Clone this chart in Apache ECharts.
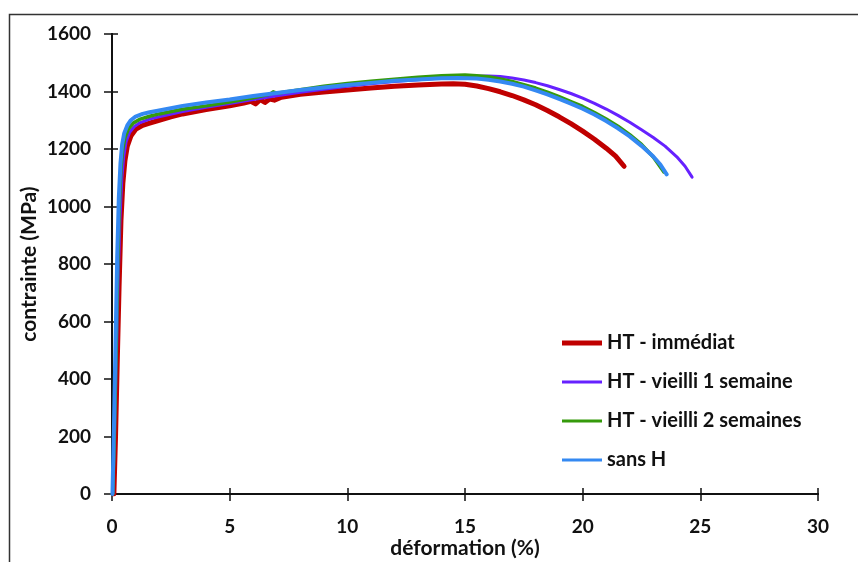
<!DOCTYPE html>
<html><head><meta charset="utf-8">
<script src="https://cdn.jsdelivr.net/npm/echarts@6/dist/echarts.min.js"></script>
<style>html,body{margin:0;padding:0;background:#fff;overflow:hidden}#c{width:858px;height:562px}</style>
</head><body><div id="c"></div>
<script>
// Data
const seriesNames = ['HT - immédiat', 'HT - vieilli 1 semaine', 'HT - vieilli 2 semaines', 'sans H'];
const xTicks = [0, 5, 10, 15, 20, 25, 30];
const yTicks = [0, 200, 400, 600, 800, 1000, 1200, 1400, 1600];

const xImmediat = [0.08, 0.15, 0.22, 0.3, 0.38, 0.46, 0.55, 0.65, 0.8, 1.0, 1.3, 1.6, 2.0, 2.5, 3.0, 4.0, 5.0, 5.6, 5.9, 6.1, 6.3, 6.5, 6.7, 6.9, 7.2, 8.0, 9.0, 10.0, 11.0, 12.0, 13.0, 14.0, 14.5, 15.0, 15.5, 16.0, 16.5, 17.0, 17.5, 18.0, 18.5, 19.0, 19.5, 20.0, 20.5, 21.0, 21.4, 21.76];
const yImmediat = [0, 200, 450, 720, 950, 1080, 1160, 1210, 1245, 1268, 1282, 1290, 1300, 1312, 1322, 1337, 1350, 1360, 1366, 1357, 1372, 1362, 1374, 1370, 1380, 1390, 1398, 1405, 1412, 1418, 1423, 1426, 1427, 1425, 1419, 1410, 1399, 1386, 1371, 1354, 1334, 1312, 1288, 1262, 1234, 1203, 1175, 1140];

const xSemaine1 = [0.03, 0.1, 0.18, 0.26, 0.34, 0.42, 0.5, 0.6, 0.75, 0.95, 1.2, 1.6, 2.0, 3.0, 4.0, 5.0, 6.0, 7.0, 8.0, 9.0, 10.0, 11.0, 12.0, 13.0, 14.0, 15.0, 16.0, 16.5, 17.0, 17.5, 18.0, 18.5, 19.0, 19.5, 20.0, 20.5, 21.0, 21.5, 22.0, 22.5, 23.0, 23.5, 24.0, 24.35, 24.65];
const ySemaine1 = [0, 180, 450, 740, 960, 1100, 1175, 1225, 1258, 1278, 1292, 1304, 1312, 1330, 1345, 1358, 1372, 1385, 1397, 1408, 1418, 1427, 1435, 1441, 1447, 1452, 1454, 1452, 1447, 1440, 1431, 1420, 1407, 1393, 1377, 1359, 1339, 1317, 1293, 1267, 1240, 1210, 1173, 1140, 1102];

const xSemaine2 = [0.03, 0.1, 0.17, 0.24, 0.31, 0.38, 0.45, 0.55, 0.7, 0.9, 1.2, 1.6, 2.0, 3.0, 4.0, 5.0, 6.0, 6.7, 6.85, 7.0, 8.0, 9.0, 10.0, 11.0, 12.0, 13.0, 14.0, 15.0, 15.5, 16.0, 16.5, 17.0, 17.5, 18.0, 18.5, 19.0, 19.5, 20.0, 20.5, 21.0, 21.5, 22.0, 22.5, 23.0, 23.45];
const ySemaine2 = [0, 200, 480, 780, 1000, 1130, 1195, 1240, 1270, 1290, 1304, 1314, 1322, 1338, 1350, 1363, 1378, 1390, 1399, 1394, 1406, 1418, 1428, 1436, 1443, 1450, 1455, 1457, 1455, 1451, 1444, 1435, 1424, 1412, 1398, 1382, 1365, 1348, 1327, 1304, 1279, 1250, 1216, 1172, 1120];

const xSansH = [0.02, 0.08, 0.15, 0.22, 0.29, 0.36, 0.43, 0.52, 0.65, 0.8, 1.0, 1.3, 1.6, 2.0, 3.0, 4.0, 5.0, 6.0, 7.0, 8.0, 9.0, 10.0, 11.0, 12.0, 13.0, 14.0, 14.7, 15.5, 16.0, 16.5, 17.0, 17.5, 18.0, 18.5, 19.0, 19.5, 20.0, 20.5, 21.0, 21.5, 22.0, 22.5, 23.0, 23.3, 23.57];
const ySansH = [0, 220, 520, 820, 1030, 1150, 1215, 1255, 1282, 1300, 1313, 1322, 1328, 1334, 1350, 1362, 1372, 1384, 1395, 1405, 1414, 1423, 1430, 1437, 1442, 1446, 1447, 1445, 1441, 1435, 1427, 1417, 1404, 1390, 1374, 1358, 1340, 1320, 1297, 1272, 1244, 1211, 1174, 1146, 1112];

const colors = ['#C00000', '#6621FF', '#359A0B', '#3489F2'];
const widths = [5, 3, 3.5, 4];
const legendIcons = ['path://M0,0H40V5H0Z', 'path://M0,0H40V3H0Z', 'path://M0,0H40V3H0Z', 'path://M0,0H40V3H0Z'];

function zip(xs, ys) { return xs.map((x, i) => [x, ys[i]]); }
const datasets = [zip(xImmediat, yImmediat), zip(xSemaine1, ySemaine1), zip(xSemaine2, ySemaine2), zip(xSansH, ySansH)];

const FONT = 'Lato';
const chart = echarts.init(document.getElementById('c'), null, {renderer: 'canvas', width: 858, height: 562});

const baseX = {
  type: 'value', min: xTicks[0], max: xTicks[xTicks.length - 1], interval: 5,
  splitLine: {show: false}, nameMoveOverlap: false,
  axisLine: {show: true, onZero: false, lineStyle: {color: '#111', width: 2}},
};
const baseY = {
  type: 'value', min: yTicks[0], max: yTicks[yTicks.length - 1], interval: 200,
  splitLine: {show: false}, nameMoveOverlap: false,
  axisLine: {show: true, onZero: false, lineStyle: {color: '#111', width: 2}},
};

chart.setOption({
  animation: false,
  backgroundColor: '#fff',
  grid: {left: 112, right: 40, top: 34, bottom: 68, containLabel: false, outerBoundsMode: 'none'},
  graphic: [{
    type: 'rect', left: 7, top: 12, silent: true, z: -1,
    shape: {x: 0, y: 0, width: 900, height: 600},
    style: {fill: 'none', stroke: '#333', lineWidth: 1.5}
  }],
  xAxis: [
    Object.assign({}, baseX, {
      name: 'déformation (%)', nameLocation: 'middle', nameGap: 44,
      nameTextStyle: {fontFamily: FONT, fontWeight: 'bold', fontSize: 21, color: '#111'},
      axisTick: {show: true, inside: false, length: 7, lineStyle: {color: '#111', width: 1.5}},
      axisLabel: {fontFamily: FONT, fontWeight: 'bold', fontSize: 19, color: '#111', margin: 23, formatter: v => String(v)}
    }),
    Object.assign({}, baseX, {
      axisTick: {show: true, inside: true, length: 6, lineStyle: {color: '#111', width: 1.5}},
      axisLabel: {show: false}, position: 'bottom'
    })
  ],
  yAxis: [
    Object.assign({}, baseY, {
      name: 'contrainte (MPa)', nameLocation: 'middle', nameGap: 72, nameRotate: 90,
      nameTextStyle: {fontFamily: FONT, fontWeight: 'bold', fontSize: 21, color: '#111'},
      axisTick: {show: true, inside: false, length: 8, lineStyle: {color: '#111', width: 1.5}},
      axisLabel: {fontFamily: FONT, fontWeight: 'bold', fontSize: 19, color: '#111', margin: 21, formatter: v => String(v)}
    }),
    Object.assign({}, baseY, {
      axisTick: {show: true, inside: true, length: 6, lineStyle: {color: '#111', width: 1.5}},
      axisLabel: {show: false}, position: 'left'
    })
  ],
  legend: {
    orient: 'vertical', left: 557, top: 328,
    itemWidth: 40, itemHeight: 14, itemGap: 19,
    textStyle: {fontFamily: FONT, fontWeight: 'bold', fontSize: 20, color: '#111'},
    data: seriesNames.map((n, i) => ({name: n, icon: legendIcons[i], itemStyle: {color: colors[i]}}))
  },
  series: seriesNames.map((name, i) => ({
    name: name, type: 'line', xAxisIndex: 0, yAxisIndex: 0,
    data: datasets[i], showSymbol: false, symbol: 'none',
    smooth: false,
    lineStyle: {color: colors[i], width: widths[i], cap: 'round', join: 'round'},
    itemStyle: {color: colors[i]},
    z: 2 + i
  }))
});
</script></body></html>
